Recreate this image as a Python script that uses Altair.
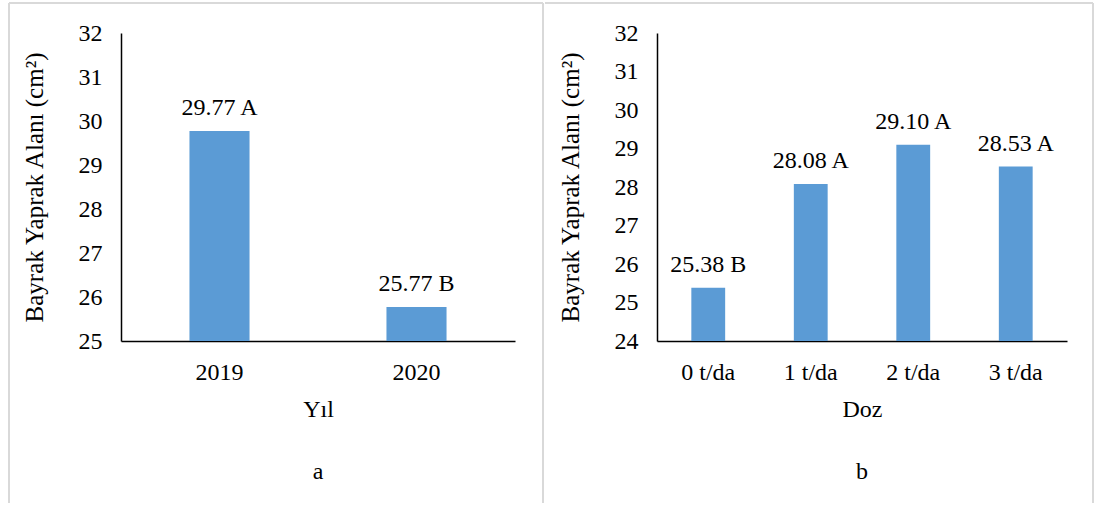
import altair as alt
import pandas as pd

# Flag leaf area means by year and by dose, with significance groups
years = ["2019", "2020"]
year_means = [29.77, 25.77]
year_groups = ["A", "B"]

doses = ["0 t/da", "1 t/da", "2 t/da", "3 t/da"]
dose_means = [25.38, 28.08, 29.10, 28.53]
dose_groups = ["B", "A", "A", "A"]

FONT = "Liberation Serif"
FS = 24
BAR = "#5B9BD5"
FRAME = "#D9D9D9"
Y_TITLE = "Bayrak Yaprak Alanı (cm²)"


def make_df(cats, means, groups):
    return pd.DataFrame({
        "cat": cats,
        "value": means,
        "label": [f"{m:.2f} {g}" for m, g in zip(means, groups)],
    })


def frame_rule(**enc):
    return alt.Chart(pd.DataFrame({"k": [0]})).mark_rule(
        color=FRAME, strokeWidth=2
    ).encode(**enc)


def panel(df, cats, x_title, y_min, y_max, width, height, pad_inner,
          caption, frame_layers):
    x = alt.X(
        "cat:N", sort=cats, title=x_title,
        scale=alt.Scale(paddingInner=pad_inner, paddingOuter=pad_inner / 2),
        axis=alt.Axis(labelAngle=0, ticks=False, tickSize=0, labelPadding=19,
                      titlePadding=13, domainColor="black", domainWidth=1.5,
                      labelFont=FONT, titleFont=FONT, labelFontSize=FS,
                      titleFontSize=FS, labelColor="black",
                      titleColor="black", titleFontWeight="normal"),
    )
    y = alt.Y(
        "value:Q", title=Y_TITLE,
        scale=alt.Scale(domain=[y_min, y_max], nice=False, zero=False),
        axis=alt.Axis(values=list(range(y_min, y_max + 1)), grid=False,
                      ticks=False, tickSize=0, labelPadding=19,
                      labelOverlap=False, titlePadding=31,
                      domainColor="black", domainWidth=1.5,
                      labelFont=FONT, titleFont=FONT, labelFontSize=FS,
                      titleFontSize=25, labelColor="black",
                      titleColor="black", titleFontWeight="normal"),
    )
    base = alt.Chart(df).encode(x=x, y=y)
    bars = base.mark_bar(color=BAR).encode(y2=alt.datum(y_min))
    labels = base.mark_text(
        font=FONT, fontSize=FS, baseline="alphabetic", dy=-16, color="black"
    ).encode(text="label:N")
    cap = alt.Chart(pd.DataFrame({"k": [0]})).mark_text(
        font=FONT, fontSize=FS, color="black"
    ).encode(x=alt.value(width / 2), y=alt.value(439), text=alt.value(caption))
    return alt.layer(*frame_layers, bars, labels, cap).properties(
        width=width, height=height
    )


left_frames = [
    frame_rule(x=alt.value(-112), y=alt.value(-30), y2=alt.value(470)),
    frame_rule(x=alt.value(-112), x2=alt.value(422), y=alt.value(-30)),
    frame_rule(x=alt.value(422), y=alt.value(-30), y2=alt.value(470)),
]
right_frames = [
    frame_rule(x=alt.value(-112), x2=alt.value(436), y=alt.value(-30)),
    frame_rule(x=alt.value(436), y=alt.value(-30), y2=alt.value(470)),
]

left = panel(make_df(years, year_means, year_groups), years, "Yıl",
             25, 32, 394, 308, 0.695, "a", left_frames)
right = panel(make_df(doses, dose_means, dose_groups), doses, "Doz",
              24, 32, 410, 308, 0.67, "b", right_frames)

chart = alt.hconcat(left, right, spacing=0).properties(
    padding={"left": 8, "top": 2, "right": 0, "bottom": 0}
).configure(font=FONT).configure_view(strokeOpacity=0)

chart.save("out.html", embed_options={"renderer": "svg", "actions": False})
